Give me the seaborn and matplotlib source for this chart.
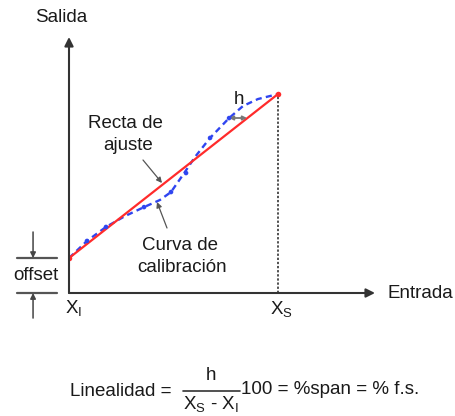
import matplotlib
matplotlib.use("Agg")
import matplotlib.pyplot as plt
from matplotlib.lines import Line2D
import seaborn as sns

# Calibration curve (input vs output, input span X_I = 0 .. X_S = 10)
curve_x = [0.00, 0.86, 1.77, 2.68, 3.59, 4.35, 4.88, 5.45, 6.03, 6.75, 7.66, 8.33, 9.04, 10.0]
curve_y = [1.67, 2.49, 3.16, 3.68, 4.11, 4.45, 4.83, 5.65, 6.51, 7.42, 8.37, 8.95, 9.28, 9.52]

# Measured calibration points
calib_x = [0.86, 1.77, 3.59, 4.88, 5.60, 6.75, 7.66]
calib_y = [2.49, 3.16, 4.11, 4.83, 5.74, 7.42, 8.37]

# Best-fit straight line
fit_x = [0.0, 10.0]
fit_y = [1.67, 9.52]

x_span = [0.0, 10.0]          # X_I, X_S
offset = fit_y[0]

sns.set_style("white")
plt.rcParams["font.family"] = ["Liberation Sans", "DejaVu Sans"]

W, H = 455, 416
TXT = "#1a1a1a"
AX = "#333333"
FS = 13.5

fig = plt.figure(figsize=(W / 100, H / 100), dpi=100)
unit = 20.9
ax = fig.add_axes([69 / W, (H - 293) / H, (375 - 69) / W, (293 - 37) / H])
ax.set_xlim(0, 306 / unit)
ax.set_ylim(0, 256 / unit)
ax.set_xticks([])
ax.set_yticks([])
for sp in ax.spines.values():
    sp.set_visible(False)
ax.patch.set_alpha(0)

# Axes with arrow heads
arrow_kw = dict(arrowstyle="-|>", color=AX, lw=1.5, mutation_scale=13, shrinkA=0, shrinkB=0)
ax.annotate("", xy=(1, 0), xytext=(0, 0), xycoords="axes fraction", arrowprops=arrow_kw)
ax.annotate("", xy=(0, 1), xytext=(0, 0), xycoords="axes fraction", arrowprops=arrow_kw)

# Vertical dotted line at X_S
ax.plot([x_span[1], x_span[1]], [0, fit_y[1]], ls=(0, (1.5, 1.2)), color="#222222", lw=1.1)

# Calibration curve
sns.lineplot(x=curve_x, y=curve_y, ax=ax, color="#2f45f0", lw=1.7,
             linestyle=(0, (2.6, 1.8)), sort=False)
# Fit line
sns.lineplot(x=fit_x, y=fit_y, ax=ax, color="#ff2b2b", lw=1.6, marker="o",
             markersize=4, markeredgewidth=0, sort=False)
# Measured points
sns.scatterplot(x=calib_x, y=calib_y, ax=ax, color="#2f45f0", s=11, edgecolor="none", zorder=4)


def txt(x, y, s, **kw):
    kw.setdefault("ha", "center")
    kw.setdefault("va", "center")
    kw.setdefault("fontsize", FS)
    kw.setdefault("color", TXT)
    ax.annotate(s, xy=(x, H - y), xycoords="figure pixels", annotation_clip=False, **kw)


def arrow(x0, y0, x1, y1, style="-|>", color="#555555", lw=0.9, ms=8):
    ax.annotate("", xy=(x1, H - y1), xytext=(x0, H - y0), xycoords="figure pixels",
                annotation_clip=False,
                arrowprops=dict(arrowstyle=style, color=color, lw=lw,
                                mutation_scale=ms, shrinkA=0, shrinkB=0))


# Axis titles
txt(61, 17, "Salida")
txt(420, 293, "Entrada")
txt(74, 309, r"X$_\mathregular{I}$")
txt(281, 310, r"X$_\mathregular{S}$")

# Offset indicator (in data coords, left of the axis)
for yv in (0, offset):
    ax.plot([-2.49, -0.57], [yv, yv], color="#555555", lw=1.6, clip_on=False)
ax.annotate("", xy=(-1.72, offset), xytext=(-1.72, offset + 1.25),
            arrowprops=dict(arrowstyle="-|>", color="#444444", lw=1.1, mutation_scale=8,
                            shrinkA=0, shrinkB=0), annotation_clip=False)
ax.annotate("", xy=(-1.72, 0), xytext=(-1.72, -1.2),
            arrowprops=dict(arrowstyle="-|>", color="#444444", lw=1.1, mutation_scale=8,
                            shrinkA=0, shrinkB=0), annotation_clip=False)
txt(36, 275, "offset")

# Curve labels
txt(125, 123, "Recta de")
txt(128, 145, "ajuste")
arrow(143, 160, 162, 183)
txt(180, 245, "Curva de")
txt(182, 267, "calibración")
arrow(167, 228, 157, 202)

# Non-linearity h
txt(239, 100, "h")
arrow(247, 118, 229, 118, style="<|-|>", color="#777777", lw=1.3, ms=6)

# Linearity formula
txt(171, 391, "Linealidad =", ha="right")
txt(211, 376, "h")
fig.add_artist(Line2D([183 / W, 240 / W], [1 - 391 / H] * 2, transform=fig.transFigure,
                      color="#333333", lw=1.2))
txt(211, 405, r"X$_\mathregular{S}$ - X$_\mathregular{I}$")
txt(241, 390, "100 = %span = % f.s.", ha="left")

fig.savefig("out.png", dpi=100)
